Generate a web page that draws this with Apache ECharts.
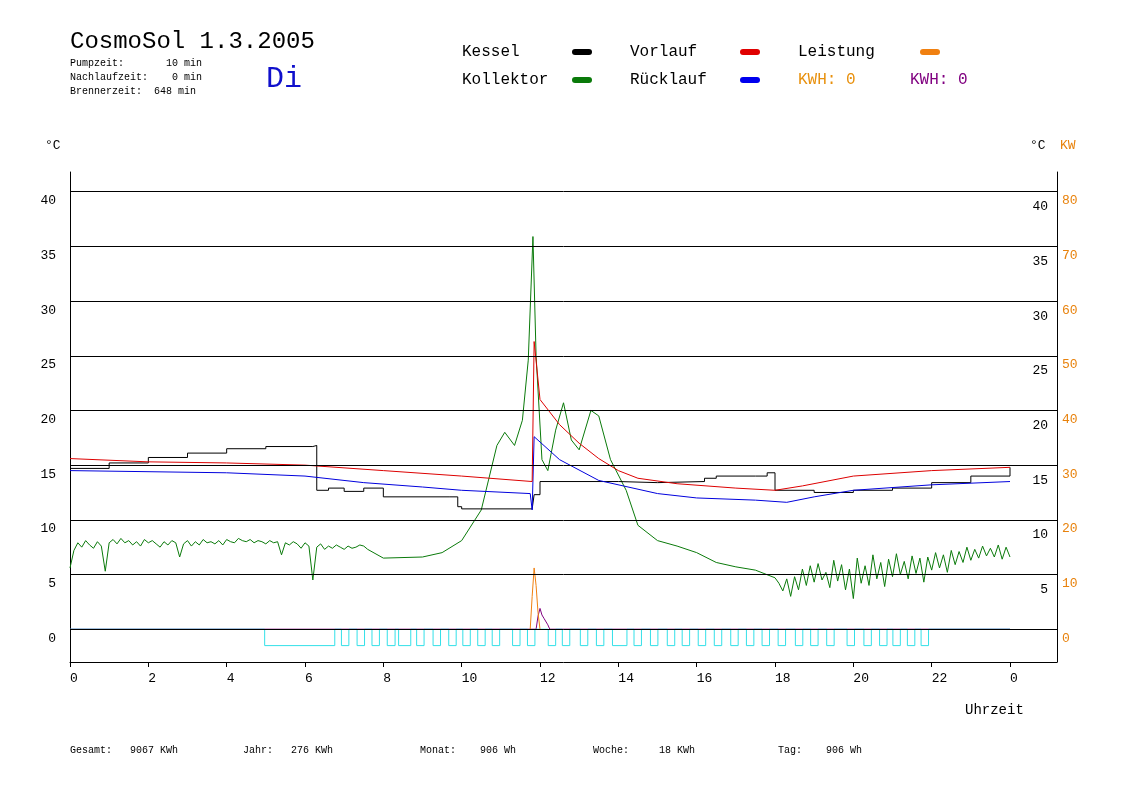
<!DOCTYPE html>
<html><head><meta charset="utf-8">
<script src="https://cdn.jsdelivr.net/npm/echarts@6/dist/echarts.min.js"></script>
<style>html,body{margin:0;background:#fff}#c{width:1148px;height:812px}</style>
</head><body><div id="c"></div>
<script>
const hourTicks=[0,2,4,6,8,10,12,14,16,18,20,22,24];
const tempTicks=[0,5,10,15,20,25,30,35,40];
const kessel=[[0,14.7],[1,15.2],[2,15.7],[3,16.1],[4,16.5],[5,16.7],[6.2,16.8],[6.3,12.7],[6.6,12.9],[7.0,12.6],[7.5,12.9],[8.0,12.1],[9.7,12.1],[9.9,11.2],[10,11.0],[11.8,11.0],[11.85,12.3],[12.0,13.5],[14,13.4],[15,13.5],[16.2,13.8],[16.5,14.0],[17.5,14.0],[17.8,14.3],[18.0,12.7],[19,12.5],[20,12.7],[21,12.9],[22,13.4],[23,14.0],[24,14.8]];
const vorlauf=[[0,15.6],[2,15.3],[4,15.2],[6,15.0],[8,14.5],[10,14.0],[11.8,13.5],[11.85,26.3],[12.0,21.0],[12.5,18.7],[13,17.0],[13.5,15.6],[14,14.5],[14.5,13.8],[15.5,13.3],[17,12.9],[18,12.7],[18.7,13.1],[20,14.0],[22,14.5],[24,14.8]];
const ruecklauf=[[0,14.5],[4,14.3],[6,14.0],[7.5,13.4],[9,13.0],[10,12.7],[11.75,12.4],[11.8,10.9],[11.85,17.6],[12.5,15.5],[13.5,13.6],[15,12.4],[16,12.0],[17.5,11.8],[18.3,11.6],[19,12.1],[20,12.7],[22,13.2],[24,13.5]];
const kollektor=[[0,5.6],[0.1,7.2],[0.2,7.9],[0.3,7.5],[0.4,8.1],[0.5,7.7],[0.6,7.4],[0.7,8.0],[0.8,7.6],[0.9,5.3],[1.0,7.9],[1.1,8.2],[1.2,7.8],[1.3,8.3],[1.4,7.9],[1.5,8.1],[1.6,7.7],[1.7,8.0],[1.8,7.6],[1.9,8.2],[2.0,7.9],[2.1,8.1],[2.2,7.8],[2.3,7.5],[2.4,8.0],[2.5,7.7],[2.6,8.1],[2.7,7.9],[2.8,6.6],[2.9,7.8],[3.0,8.1],[3.1,7.6],[3.2,8.0],[3.3,7.7],[3.4,8.2],[3.5,7.9],[3.6,8.0],[3.7,7.8],[3.8,8.1],[3.9,7.7],[4.0,8.2],[4.1,8.0],[4.2,7.9],[4.3,8.3],[4.4,8.1],[4.5,8.0],[4.6,8.2],[4.7,7.9],[4.8,8.1],[4.9,8.0],[5.0,7.8],[5.1,8.1],[5.2,7.9],[5.3,8.0],[5.4,6.8],[5.5,7.9],[5.6,7.7],[5.7,8.0],[5.8,7.8],[5.9,7.4],[6.0,7.9],[6.1,7.6],[6.2,4.5],[6.3,7.5],[6.4,7.8],[6.5,7.3],[6.6,7.6],[6.7,7.4],[6.8,7.7],[6.9,7.5],[7.0,7.3],[7.1,7.6],[7.2,7.4],[7.3,7.5],[7.4,7.7],[7.5,7.6],[7.6,7.3],[8,6.5],[9,6.6],[9.5,7.0],[10,8.1],[10.5,10.9],[10.9,16.8],[11.1,18.0],[11.35,16.8],[11.55,19.1],[11.7,24.6],[11.82,35.9],[11.9,25.0],[12.05,15.5],[12.2,14.5],[12.4,18.2],[12.6,20.7],[12.8,17.3],[13.0,16.4],[13.3,20.0],[13.5,19.5],[13.8,15.5],[14.2,12.7],[14.5,9.5],[15,8.1],[15.5,7.6],[16,7.0],[16.5,6.1],[17,5.7],[17.5,5.4],[18.0,4.7],[18.1,4.2],[18.2,3.5],[18.3,4.6],[18.4,3.0],[18.5,4.8],[18.6,3.6],[18.7,5.5],[18.8,4.0],[18.9,5.8],[19.0,4.3],[19.1,6.0],[19.2,4.5],[19.3,5.2],[19.4,3.8],[19.5,6.3],[19.6,4.4],[19.7,5.9],[19.8,3.6],[19.9,5.5],[20.0,2.8],[20.1,6.5],[20.2,4.2],[20.3,5.8],[20.4,4.0],[20.5,6.8],[20.6,4.6],[20.7,6.1],[20.8,3.9],[20.9,6.4],[21.0,4.8],[21.1,6.9],[21.2,5.0],[21.3,6.2],[21.4,4.6],[21.5,6.7],[21.6,5.1],[21.7,6.5],[21.8,4.3],[21.9,6.6],[22.0,5.4],[22.1,7.0],[22.2,5.6],[22.3,6.8],[22.4,5.2],[22.5,7.2],[22.6,5.9],[22.7,7.1],[22.8,6.1],[22.9,7.5],[23.0,6.3],[23.1,7.3],[23.2,6.5],[23.3,7.6],[23.4,6.7],[23.5,7.4],[23.6,6.6],[23.7,7.7],[23.8,6.4],[23.9,7.5],[24.0,6.6]];
const leistungKW=[[11.75,0],[11.8,6],[11.85,11.2],[11.9,8],[11.95,3],[12.0,0]];
const kwh=[[0,0],[11.9,0],[11.95,1.2],[12.0,1.9],[12.05,1.3],[12.1,1.0],[12.2,0.4],[12.25,0],[24,0]];
const pumpStart=[4.97,6.93,7.33,7.71,8.10,8.39,8.85,9.27,9.67,10.03,10.41,10.78,11.30,11.68,12.21,12.57,13.03,13.44,13.85,14.40,14.82,15.25,15.63,16.04,16.45,16.87,17.27,17.67,18.08,18.52,18.91,19.32,19.84,20.27,20.67,21.01,21.38,21.73];
const pumpEnd=[6.76,7.12,7.52,7.90,8.30,8.70,9.04,9.46,9.86,10.22,10.60,10.97,11.49,11.87,12.40,12.76,13.22,13.63,14.22,14.59,15.01,15.44,15.82,16.23,16.64,17.06,17.46,17.86,18.27,18.71,19.10,19.51,20.03,20.46,20.86,21.20,21.57,21.92];
const pumpLow=-1.5;
const pump=[[0,0]];
pumpStart.forEach((s,i)=>{pump.push([s,0],[s,pumpLow],[pumpEnd[i],pumpLow],[pumpEnd[i],0]);});
pump.push([24,0]);

const mono='"Liberation Mono", "DejaVu Sans Mono", monospace';
const chart=echarts.init(document.getElementById('c'),null,{renderer:'canvas'});
const line=(name,data,color,extra)=>Object.assign({type:'line',name,data,showSymbol:false,symbol:'none',lineStyle:{color,width:1},itemStyle:{color},animation:false},extra||{});
const txt=(x,y,t,size,color,align)=>({type:'text',x,y,style:{text:t,font:`${size}px ${mono}`,fill:color||'#000',textAlign:align||'left',textVerticalAlign:'middle'}});
const pill=(x,y,c)=>({type:'rect',shape:{x,y:y-3,width:20,height:6,r:3},style:{fill:c}});
chart.setOption({
  animation:false,
  grid:{left:70,right:91,top:172,bottom:150},
  xAxis:{type:'value',min:0,max:25.2,
    axisLine:{onZero:false,lineStyle:{color:'#000'}},
    axisTick:{customValues:hourTicks,length:5,lineStyle:{color:'#000'}},
    axisLabel:{customValues:hourTicks,formatter:v=>v==24?'0':String(v),color:'#000',fontFamily:mono,fontSize:13,margin:10,align:'left',padding:[0,0,0,0]},
    splitLine:{show:false}},
  yAxis:[
    {type:'value',min:-3,max:41.8,position:'left',axisLine:{show:true,onZero:false,lineStyle:{color:'#000'}},axisTick:{show:false},
     axisLabel:{customValues:tempTicks,color:'#000',fontFamily:mono,fontSize:13,margin:14,verticalAlign:'top',lineHeight:18},splitLine:{show:false}},
    {type:'value',min:-3,max:41.8,position:'right',axisLine:{show:true,onZero:false,lineStyle:{color:'#000'}},axisTick:{show:false},
     axisLabel:{inside:true,customValues:tempTicks.slice(1),color:'#000',fontFamily:mono,fontSize:13,margin:9,verticalAlign:'top',lineHeight:30},splitLine:{show:false}},
    {type:'value',min:-3,max:41.8,position:'right',axisLine:{show:false},axisTick:{show:false},
     axisLabel:{customValues:tempTicks,formatter:v=>String(v*2),color:'#e8820c',fontFamily:mono,fontSize:13,margin:5,verticalAlign:'top',lineHeight:18},splitLine:{show:false}}
  ],
  series:[
    line('grid',[],'#000',{markLine:{silent:true,symbol:'none',label:{show:false},lineStyle:{color:'#000',width:1,type:'solid'},data:tempTicks.map(v=>({yAxis:v}))}}),
    line('KWH',kwh,'#800080'),
    line('Pumpe',pump,'#33e0e8'),
    line('Kollektor',kollektor,'#0a7a0a'),
    line('Kessel',kessel,'#000',{step:'end'}),
    line('Rücklauf',ruecklauf,'#0000dd'),
    line('Vorlauf',vorlauf,'#dd0000'),
    line('Leistung',leistungKW.map(p=>[p[0],p[1]/2]),'#f08010')
  ],
  graphic:[
    txt(70,42,'CosmoSol 1.3.2005',24),
    txt(70,63,'Pumpzeit:       10 min',10),
    txt(70,77,'Nachlaufzeit:    0 min',10),
    txt(70,91,'Brennerzeit:  648 min',10),
    {type:'text',x:266,y:79,style:{text:'Di',font:'30px '+mono,fill:'#1010cc',textVerticalAlign:'middle'}},
    txt(462,52,'Kessel',16), pill(572,52,'#000'),
    txt(462,80,'Kollektor',16), pill(572,80,'#0a7a0a'),
    txt(630,52,'Vorlauf',16), pill(740,52,'#e00000'),
    txt(630,80,'Rücklauf',16), pill(740,80,'#0000ee'),
    txt(798,52,'Leistung',16), pill(920,52,'#f08010'),
    txt(798,80,'KWH: 0',16,'#e8900c'),
    txt(910,80,'KWH: 0',16,'#800080'),
    txt(45,146,'°C',13),
    txt(1030,146,'°C',13), txt(1060,146,'KW',13,'#e8820c'),
    txt(965,710,'Uhrzeit',14),
    txt(70,750,'Gesamt:   9067 KWh',10), txt(243,750,'Jahr:   276 KWh',10),
    txt(420,750,'Monat:    906 Wh',10), txt(593,750,'Woche:     18 KWh',10),
    txt(778,750,'Tag:    906 Wh',10)
  ]
});
</script></body></html>
